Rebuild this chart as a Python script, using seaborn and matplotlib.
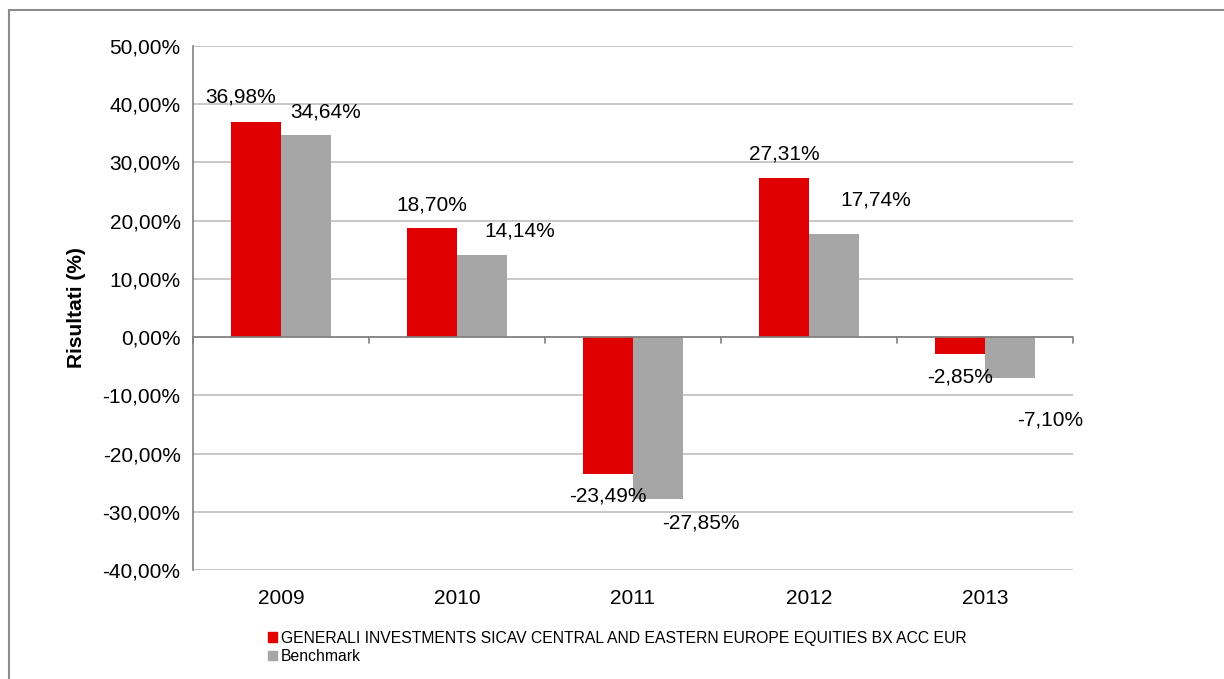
import pandas as pd
import matplotlib
matplotlib.use('Agg')
import matplotlib.pyplot as plt
import seaborn as sns
from matplotlib.lines import Line2D
from matplotlib.patches import Patch

# Chart data
years = ['2009', '2010', '2011', '2012', '2013']
fund_name = 'GENERALI INVESTMENTS SICAV CENTRAL AND EASTERN EUROPE EQUITIES BX ACC EUR'
bench_name = 'Benchmark'
fund_values = [36.98, 18.70, -23.49, 27.31, -2.85]
bench_values = [34.64, 14.14, -27.85, 17.74, -7.10]

# label offsets in points (x, y) relative to bar end
fund_offsets = [(-11, 18), (0, 17), (0, -16), (0, 17), (0, -17)]
bench_offsets = [(14, 17), (27, 17), (31, -17), (30, 24), (29, -30)]

df = pd.DataFrame({
    'year': years * 2,
    'value': fund_values + bench_values,
    'series': [fund_name] * len(years) + [bench_name] * len(years),
})

red = '#E00000'
grey = '#A6A6A6'

sns.set_style('white')
plt.rcParams['font.family'] = ['Liberation Sans', 'DejaVu Sans']
plt.rcParams['text.color'] = 'black'
plt.rcParams['axes.labelcolor'] = 'black'
plt.rcParams['xtick.color'] = 'black'
plt.rcParams['ytick.color'] = 'black'

fig = plt.figure(figsize=(12.24, 6.79), dpi=100)
ax = fig.add_axes([0.1577, 0.1605, 0.7189, 0.7718])

sns.barplot(data=df, x='year', y='value', hue='series', order=years,
            hue_order=[fund_name, bench_name], palette=[red, grey],
            width=0.57, saturation=1, linewidth=0, ax=ax, legend=False)

ax.set_ylim(-40, 50)
ax.set_xlim(-0.5, len(years) - 0.5)
ax.set_yticks(range(-40, 51, 10))
ax.set_yticklabels([f'{v:.2f}%'.replace('.', ',') for v in range(-40, 51, 10)], fontsize=15)
ax.yaxis.grid(True, color='#BFBFBF', linewidth=1.2)
ax.set_axisbelow(True)
ax.tick_params(axis='y', length=6, color='#808080', labelcolor='black', width=1.2, pad=3)
ax.tick_params(axis='x', length=0, labelsize=15, labelcolor='black', pad=14)
ax.set_xlabel('')
ax.set_ylabel('Risultati (%)', fontsize=15, fontweight='bold', labelpad=12, color='black')

for side in ['top', 'right', 'bottom']:
    ax.spines[side].set_visible(False)
ax.spines['left'].set_color('#808080')
ax.spines['left'].set_linewidth(1.2)

# category axis at zero
ax.axhline(0, color='#808080', linewidth=1.2, zorder=3)
for b in [i - 0.5 for i in range(len(years) + 1)]:
    ax.plot([b, b], [0, -1.0], color='#808080', linewidth=1.2, zorder=3, clip_on=False)

# value labels
for cont, vals, offs in zip(ax.containers, [fund_values, bench_values], [fund_offsets, bench_offsets]):
    for bar, v, (dx, dy) in zip(cont, vals, offs):
        xc = bar.get_x() + bar.get_width() / 2
        ax.annotate(f'{v:.2f}%'.replace('.', ','), (xc, v), xytext=(dx, dy),
                    textcoords='offset points', ha='center', va='center',
                    fontsize=15, color='black')

# legend below
handles = [Patch(color=red), Patch(color=grey)]
fig.legend(handles, [fund_name, bench_name], loc='upper left',
           bbox_to_anchor=(0.219, 0.071), frameon=False, fontsize=11.35,
           handlelength=0.55, handleheight=0.55, handletextpad=0.25,
           labelspacing=0.2, borderpad=0, borderaxespad=0)

# outer frame (left and top only visible)
fig.add_artist(Line2D([9 / 1224, 9 / 1224], [0, 1 - 10 / 679], color='#8C8C8C', linewidth=1.5))
fig.add_artist(Line2D([9 / 1224, 1], [1 - 10 / 679, 1 - 10 / 679], color='#8C8C8C', linewidth=1.5))

fig.savefig('out.png', dpi=100)
